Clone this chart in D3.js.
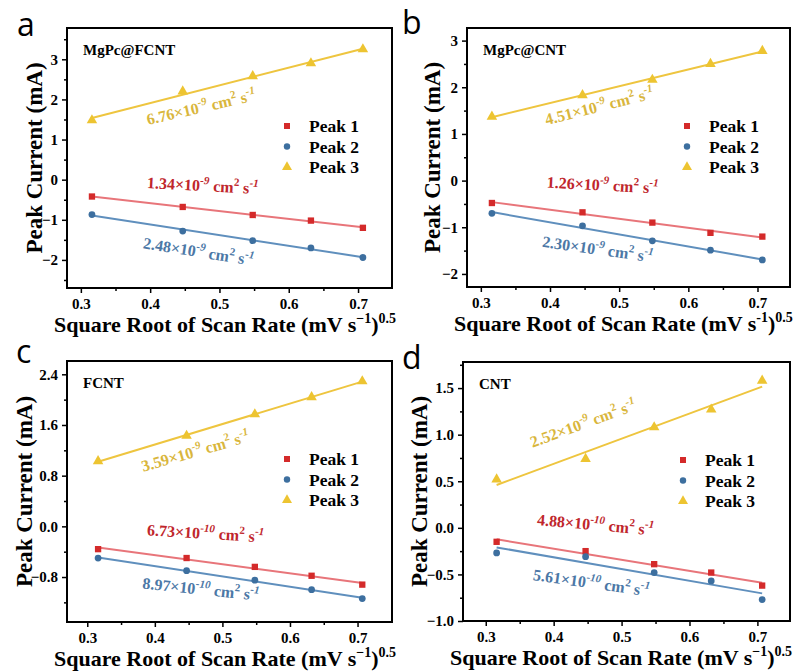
<!DOCTYPE html>
<html>
<head>
<meta charset="utf-8">
<script src="https://cdn.jsdelivr.net/npm/d3@7"></script>
<style>
  body { margin: 0; background: #fff; }
  svg { display: block; }
</style>
</head>
<body>
<svg id="chart" width="806" height="671"></svg>
<script>
// scan rate square roots (mV/s)^0.5
var xVals = [0.316, 0.447, 0.548, 0.632, 0.707];

var seriesNames = ["Peak 1", "Peak 2", "Peak 3"];

// peak currents (mA)
var aPeak1 = [-0.42, -0.68, -0.88, -1.02, -1.20];
var aPeak2 = [-0.87, -1.28, -1.52, -1.70, -1.94];
var aPeak3 = [1.48, 2.20, 2.58, 2.90, 3.25];

var bPeak1 = [-0.48, -0.68, -0.90, -1.12, -1.20];
var bPeak2 = [-0.70, -0.97, -1.29, -1.49, -1.70];
var bPeak3 = [1.37, 1.83, 2.16, 2.50, 2.78];

var cPeak1 = [-0.36, -0.50, -0.64, -0.78, -0.92];
var cPeak2 = [-0.50, -0.70, -0.85, -1.00, -1.14];
var cPeak3 = [1.03, 1.43, 1.77, 2.04, 2.29];

var dPeak1 = [-0.15, -0.25, -0.39, -0.48, -0.62];
var dPeak2 = [-0.27, -0.31, -0.48, -0.57, -0.77];
var dPeak3 = [0.52, 0.74, 1.08, 1.27, 1.58];

// diffusion coefficients: [mantissa, exponent]
var aDiff = [["1.34", "-9"], ["2.48", "-9"], ["6.76", "-9"]];
var bDiff = [["1.26", "-9"], ["2.30", "-9"], ["4.51", "-9"]];
var cDiff = [["6.73", "-10"], ["8.97", "-10"], ["3.59", "-9"]];
var dDiff = [["4.88", "-10"], ["5.61", "-10"], ["2.52", "-9"]];

var xTicks = [0.3, 0.4, 0.5, 0.6, 0.7];
var xMinor = [0.35, 0.45, 0.55, 0.65];
var abYTicks = [-2, -1, 0, 1, 2, 3];
var aYMinor = [-2.5, -1.5, -0.5, 0.5, 1.5, 2.5, 3.5];
var bYMinor = [-1.5, -0.5, 0.5, 1.5, 2.5];
var cYTicks = [-0.8, 0.0, 0.8, 1.6, 2.4];
var cYMinor = [-1.2, -0.4, 0.4, 1.2, 2.0];
var dYTicks = [-1.0, -0.5, 0.0, 0.5, 1.0, 1.5];
var dYMinor = [-0.75, -0.25, 0.25, 0.75, 1.25, 1.75];

var samples = ["MgPc@FCNT", "MgPc@CNT", "FCNT", "CNT"];
var letters = ["a", "b", "c", "d"];

// styling
var SERIF = "'Liberation Serif', 'Times New Roman', serif";
var SANS = "'Open Sans', 'DejaVu Sans', sans-serif";
var markerColor = ["#d42a2a", "#3d6f9f", "#edc431"];
var lineColor   = ["#e8757a", "#5f8fbd", "#eec53f"];
var textColor   = ["#c0262c", "#4c78a6", "#d9b63c"];
var markerType  = [d3.symbolSquare, d3.symbolCircle, d3.symbolTriangle];
var markerSize  = [40, 36, 48];

// layout per panel (frame box in px, domains, annotation anchors in data units)
var panels = [
  { frame: [67, 28, 392, 288], xd: [0.28, 0.749], yd: [-2.7, 3.78], letter: [17, 36], yTitle: 25,
    yTicks: abYTicks, yMinor: aYMinor, yFmt: d3.format("d"), minus: "\u2212",
    series: [aPeak1, aPeak2, aPeak3], diff: aDiff,
    ann: [[0.395, -0.21, 3], [0.389, -1.71, 9], [0.397, 1.36, -13]] },
  { frame: [467, 28, 790, 287], xd: [0.28, 0.747], yd: [-2.28, 3.27], letter: [402, 34], yTitle: 27,
    yTicks: abYTicks, yMinor: bYMinor, yFmt: d3.format("d"), minus: "-",
    series: [bPeak1, bPeak2, bPeak3], diff: bDiff,
    ann: [[0.395, -0.15, 3], [0.388, -1.42, 8], [0.395, 1.19, -14]] },
  { frame: [67, 361, 392, 622], xd: [0.27, 0.751], yd: [-1.51, 2.61], letter: [16, 363], yTitle: 35,
    yTicks: cYTicks, yMinor: cYMinor, yFmt: d3.format(".1f"), minus: "\u2212",
    series: [cPeak1, cPeak2, cPeak3], diff: cDiff,
    ann: [[0.388, -0.14, 3.5], [0.381, -0.98, 6], [0.383, 0.86, -16]] },
  { frame: [463, 362, 790, 621], xd: [0.2665, 0.748], yd: [-1.0, 1.78], letter: [402, 369], yTitle: 36,
    yTicks: dYTicks, yMinor: dYMinor, yFmt: d3.format(".1f"), minus: "\u2212",
    series: [dPeak1, dPeak2, dPeak3], diff: dDiff,
    ann: [[0.375, 0.03, 5], [0.369, -0.56, 8], [0.369, 0.86, -20]] }
];

var svg = d3.select("#chart");

function linfit(xs, ys) {
  var mx = d3.mean(xs), my = d3.mean(ys);
  var sxy = d3.sum(xs, function(x, i) { return (x - mx) * (ys[i] - my); });
  var sxx = d3.sum(xs, function(x) { return (x - mx) * (x - mx); });
  var k = sxy / sxx;
  return function(x) { return my + k * (x - mx); };
}

function serifText(sel, size) {
  return sel.append("text")
    .attr("font-family", SERIF).attr("font-weight", "bold")
    .attr("font-size", size);
}

panels.forEach(function(p, pi) {
  var L = p.frame[0], T = p.frame[1], R = p.frame[2], B = p.frame[3];
  var x = d3.scaleLinear().domain(p.xd).range([L, R]);
  var y = d3.scaleLinear().domain(p.yd).range([B, T]);
  var g = svg.append("g");

  // panel letter
  g.append("text")
    .attr("x", p.letter[0]).attr("y", p.letter[1])
    .attr("font-family", SANS)
    .attr("font-size", 32)
    .text(letters[pi]);

  // axes
  g.append("g")
    .attr("transform", "translate(0," + B + ")")
    .call(d3.axisBottom(x).tickValues(xTicks).tickSize(5).tickSizeOuter(0)
      .tickPadding(5).tickFormat(d3.format(".1f")));
  g.append("g").attr("transform", "translate(0," + B + ")")
    .call(d3.axisBottom(x).tickValues(xMinor).tickSize(3).tickSizeOuter(0).tickFormat(""));

  g.append("g")
    .attr("transform", "translate(" + L + ",0)")
    .call(d3.axisLeft(y).tickValues(p.yTicks).tickSize(5).tickSizeOuter(0)
      .tickPadding(4).tickFormat(p.yFmt));
  g.append("g").attr("transform", "translate(" + L + ",0)")
    .call(d3.axisLeft(y).tickValues(p.yMinor.filter(function(v) { return v > p.yd[0] && v < p.yd[1]; }))
      .tickSize(3).tickSizeOuter(0).tickFormat(""));

  g.selectAll(".domain").remove();
  g.selectAll(".tick line").attr("stroke", "#000").attr("stroke-width", 1.5);
  g.selectAll(".tick text").attr("fill", "#000").attr("font-size", 15)
    .attr("font-family", SERIF).attr("font-weight", "bold");

  // frame
  g.append("rect")
    .attr("x", L).attr("y", T).attr("width", R - L).attr("height", B - T)
    .attr("fill", "none").attr("stroke", "#000").attr("stroke-width", 2);

  // axis titles
  serifText(g, 23)
    .attr("transform", "translate(" + (L - p.yTitle) + "," + ((T + B) / 2) + ") rotate(-90)")
    .attr("text-anchor", "middle")
    .text("Peak Current (mA)");

  var xt = serifText(g, 22)
    .attr("x", L - 13).attr("y", B + 44);
  xt.append("tspan").text("Square Root of Scan Rate (mV s");
  xt.append("tspan").attr("dy", -9).attr("font-size", 14).text(p.minus + "1");
  xt.append("tspan").attr("dy", 9).text(")");
  xt.append("tspan").attr("dy", -9).attr("font-size", 14).text("0.5");

  // sample name
  serifText(g, 15)
    .attr("x", L + 16).attr("y", T + 27)
    .text(samples[pi]);

  // series: fit lines + markers
  p.series.forEach(function(vals, si) {
    var f = linfit(xVals, vals);
    var ends = [xVals[0], xVals[xVals.length - 1]];
    g.append("line")
      .attr("x1", x(ends[0])).attr("y1", y(f(ends[0])))
      .attr("x2", x(ends[1])).attr("y2", y(f(ends[1])))
      .attr("stroke", lineColor[si]).attr("stroke-width", 2);

    g.selectAll(".m" + si)
      .data(vals)
      .enter().append("path")
      .attr("class", "m" + si)
      .attr("transform", function(d, i) { return "translate(" + x(xVals[i]) + "," + y(d) + ")"; })
      .attr("d", d3.symbol().type(markerType[si]).size(markerSize[si]))
      .attr("fill", markerColor[si]);

    // diffusion coefficient label
    var a = p.ann[si];
    var t = serifText(g, 16)
      .attr("transform", "translate(" + x(a[0]) + "," + y(a[1]) + ") rotate(" + a[2] + ")")
      .attr("fill", textColor[si]);
    t.append("tspan").text(p.diff[si][0] + "\u00d710");
    t.append("tspan").attr("dy", -7).attr("font-size", 11).attr("font-style", "italic").text(p.diff[si][1]);
    t.append("tspan").attr("dy", 7).text(" cm");
    t.append("tspan").attr("dy", -7).attr("font-size", 11).text("2");
    t.append("tspan").attr("dy", 7).text(" s");
    t.append("tspan").attr("dy", -7).attr("font-size", 11).attr("font-style", "italic").text("-1");
  });

  // legend
  var lg = g.append("g").attr("transform", "translate(" + (L + 220) + "," + (T + 98) + ")");
  seriesNames.forEach(function(name, si) {
    lg.append("path")
      .attr("transform", "translate(0," + (si * 20.5) + ")")
      .attr("d", d3.symbol().type(markerType[si]).size(markerSize[si] * 0.9))
      .attr("fill", markerColor[si]);
    serifText(lg, 17.5)
      .attr("x", 22).attr("y", si * 20.5 + 6)
      .text(name);
  });
});
</script>
</body>
</html>
